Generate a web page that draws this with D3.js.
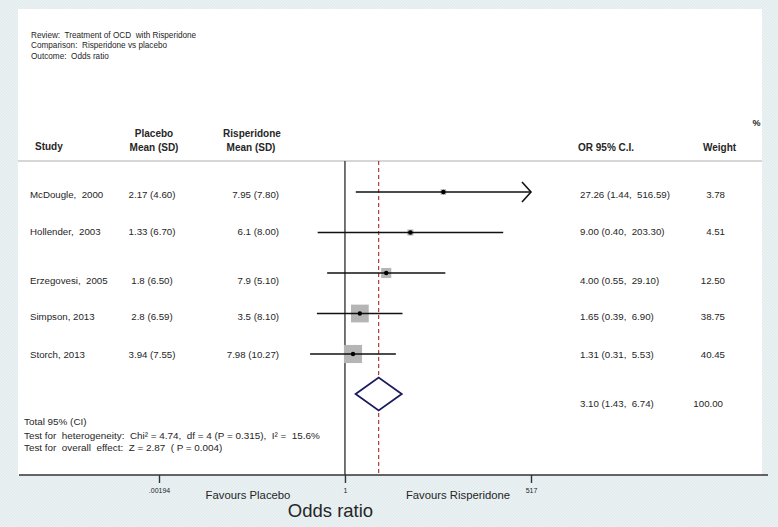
<!DOCTYPE html>
<html>
<head>
<meta charset="utf-8">
<script src="https://cdn.jsdelivr.net/npm/d3@7/dist/d3.min.js"></script>
<style>
  html, body { margin: 0; padding: 0; background: #fff; }
  svg { display: block; }
  text { font-family: "Liberation Sans", Arial, sans-serif; fill: #262626; }
</style>
</head>
<body>
<svg id="chart" width="778" height="527"></svg>
<script>
// ---------- data ----------
const headerLines = ["Review:  Treatment of OCD  with Risperidone", "Comparison:  Risperidone vs placebo", "Outcome:  Odds ratio"];
const studies = ["McDougle,  2000", "Hollender,  2003", "Erzegovesi,  2005", "Simpson, 2013", "Storch, 2013"];
const placeboMean = ["2.17", "1.33", "1.8", "2.8", "3.94"];
const placeboSD = ["4.60", "6.70", "6.50", "6.59", "7.55"];
const risperidoneMean = ["7.95", "6.1", "7.9", "3.5", "7.98"];
const risperidoneSD = ["7.80", "8.00", "5.10", "8.10", "10.27"];
const oddsRatio = [27.26, 9.00, 4.00, 1.65, 1.31];
const ciLow = [1.44, 0.40, 0.55, 0.39, 0.31];
const ciHigh = [516.59, 203.30, 29.10, 6.90, 5.53];
const weights = [3.78, 4.51, 12.50, 38.75, 40.45];
const pooled = { or: 3.10, lo: 1.43, hi: 6.74, weight: 100.00 };
const axisTicks = [0.00194, 1, 517];
const axisTickLabels = [".00194", "1", "517"];
const statsLines = [
  "Total 95% (CI)",
  "Test for  heterogeneity:  Chi\u00B2 = 4.74,  df = 4 (P = 0.315),  I\u00B2 =  15.6%",
  "Test for  overall  effect:  Z = 2.87  ( P = 0.004)"
];

// ---------- layout ----------
const W = 778, H = 527;
const panel = { x0: 18, x1: 762, y0: 9, y1: 475 };
const textRowShift = [2.5, -1, 7.5, 3.5, 1];   // text rows sit slightly off the plot rows in the original

const svg = d3.select("#chart");

// background with fine hatch
const defs = svg.append("defs");
const pat = defs.append("pattern").attr("id", "hatch").attr("width", 3).attr("height", 3)
  .attr("patternUnits", "userSpaceOnUse");
pat.append("rect").attr("width", 3).attr("height", 3).attr("fill", "#e9f1f3");
pat.append("path").attr("d", "M0,3 L3,0").attr("stroke", "#dde8eb").attr("stroke-width", 0.8);
svg.append("rect").attr("width", W).attr("height", H).attr("fill", "url(#hatch)");
svg.append("rect").attr("x", panel.x0).attr("y", panel.y0)
  .attr("width", panel.x1 - panel.x0).attr("height", panel.y1 - panel.y0).attr("fill", "#fff");

// scales
const x = d3.scaleLog().domain([axisTicks[0], axisTicks[2]]).range([159, 531]);
const y = d3.scalePoint().domain(d3.range(studies.length)).range([192, 354]);
const boxSide = w => 2.85 * Math.sqrt(w);

// header texts
svg.append("g").selectAll("text").data(headerLines).join("text")
  .attr("x", 31).attr("y", (d, i) => 38 + i * 10.3)
  .attr("font-size", 8.2).attr("xml:space", "preserve").text(d => d);

const bold = (t, xx, yy, anchor, size) => svg.append("text").attr("x", xx).attr("y", yy)
  .attr("text-anchor", anchor || "start").attr("font-size", size || 10).attr("font-weight", "bold").text(t);
bold("Study", 35, 150);
bold("Placebo", 154, 137, "middle");
bold("Mean (SD)", 154, 151, "middle");
bold("Risperidone", 252, 137, "middle");
bold("Mean (SD)", 251, 151, "middle");
bold("OR  95% C.I.", 578, 151);
bold("Weight", 703, 151);
bold("%", 752.5, 126, "start", 9);

// header separator
svg.append("line").attr("x1", panel.x0).attr("x2", panel.x1).attr("y1", 161).attr("y2", 161)
  .attr("stroke", "#c9c9c9").attr("stroke-width", 1.5);

// reference lines
svg.append("line").attr("x1", x(1)).attr("x2", x(1)).attr("y1", 161).attr("y2", panel.y1)
  .attr("stroke", "#2a2a2a").attr("stroke-width", 1.3);
svg.append("line").attr("x1", x(pooled.or)).attr("x2", x(pooled.or)).attr("y1", 161).attr("y2", panel.y1)
  .attr("stroke", "#b03a3a").attr("stroke-width", 1.2).attr("stroke-dasharray", "4,3");

// row texts
const rows = svg.append("g").attr("font-size", 9.7);
const idx = d3.range(studies.length);
rows.selectAll(".st").data(idx).join("text").attr("class", "st")
  .attr("x", 30).attr("y", i => y(i) + textRowShift[i]).attr("dy", "0.35em")
  .attr("xml:space", "preserve").text(i => studies[i]);
rows.selectAll(".pl").data(idx).join("text").attr("class", "pl")
  .attr("x", 152).attr("text-anchor", "middle").attr("y", i => y(i) + textRowShift[i]).attr("dy", "0.35em")
  .text(i => `${placeboMean[i]} (${placeboSD[i]})`);
rows.selectAll(".ri").data(idx).join("text").attr("class", "ri")
  .attr("x", 279).attr("text-anchor", "end").attr("y", i => y(i) + textRowShift[i]).attr("dy", "0.35em")
  .text(i => `${risperidoneMean[i]} (${risperidoneSD[i]})`);
rows.selectAll(".or").data(idx).join("text").attr("class", "or")
  .attr("x", 580).attr("y", i => y(i) + textRowShift[i]).attr("dy", "0.35em")
  .attr("xml:space", "preserve")
  .text(i => `${oddsRatio[i].toFixed(2)} (${ciLow[i].toFixed(2)},  ${ciHigh[i].toFixed(2)})`);
rows.selectAll(".wt").data(idx).join("text").attr("class", "wt")
  .attr("x", 725).attr("text-anchor", "end").attr("y", i => y(i) + textRowShift[i]).attr("dy", "0.35em")
  .text(i => weights[i].toFixed(2));

// boxes
const marks = svg.append("g");
marks.selectAll("rect").data(idx).join("rect")
  .attr("x", i => x(oddsRatio[i]) - boxSide(weights[i]) / 2)
  .attr("y", i => y(i) - boxSide(weights[i]) / 2)
  .attr("width", i => boxSide(weights[i])).attr("height", i => boxSide(weights[i]))
  .attr("fill", "#b5b5b5");
// CI lines
const xMax = x.range()[1];
marks.selectAll("line.ci").data(idx).join("line").attr("class", "ci")
  .attr("x1", i => x(ciLow[i])).attr("x2", i => Math.min(x(ciHigh[i]), xMax))
  .attr("y1", i => y(i)).attr("y2", i => y(i))
  .attr("stroke", "#111").attr("stroke-width", 1.6);
// arrows when CI reaches the axis limit
marks.selectAll("path.arrow").data(idx.filter(i => x(ciHigh[i]) >= xMax - 1)).join("path").attr("class", "arrow")
  .attr("d", i => `M${xMax - 9},${y(i) - 10} L${xMax},${y(i)} L${xMax - 9},${y(i) + 10}`)
  .attr("fill", "none").attr("stroke", "#111").attr("stroke-width", 1.6);
// points
marks.selectAll("circle").data(idx).join("circle")
  .attr("cx", i => x(oddsRatio[i])).attr("cy", i => y(i)).attr("r", 2.2).attr("fill", "#000");

// pooled diamond
const yD = 394, hD = 16.5;
svg.append("path")
  .attr("d", `M${x(pooled.lo)},${yD} L${x(pooled.or)},${yD - hD} L${x(pooled.hi)},${yD} L${x(pooled.or)},${yD + hD} Z`)
  .attr("fill", "#fff").attr("stroke", "#1b1b5e").attr("stroke-width", 1.8);
svg.append("text").attr("x", 580).attr("y", 404).attr("dy", "0.35em").attr("font-size", 9.7)
  .attr("xml:space", "preserve")
  .text(`${pooled.or.toFixed(2)} (${pooled.lo.toFixed(2)},  ${pooled.hi.toFixed(2)})`);
svg.append("text").attr("x", 723).attr("y", 404).attr("dy", "0.35em").attr("font-size", 9.7)
  .attr("text-anchor", "end").text(pooled.weight.toFixed(2));

// stats text
svg.append("g").selectAll("text").data(statsLines).join("text")
  .attr("x", 24).attr("y", (d, i) => [422, 436, 448][i]).attr("dy", "0.35em")
  .attr("font-size", 9.9).attr("xml:space", "preserve").text(d => d);

// axis
svg.append("line").attr("x1", 19).attr("x2", 768).attr("y1", panel.y1).attr("y2", panel.y1)
  .attr("stroke", "#333").attr("stroke-width", 1.6);
const axis = d3.axisBottom(x).tickValues(axisTicks)
  .tickFormat((d, i) => axisTickLabels[i]).tickSize(8).tickPadding(5);
const gAxis = svg.append("g").attr("transform", `translate(0,${panel.y1})`).call(axis);
gAxis.select(".domain").remove();
gAxis.selectAll(".tick line").attr("stroke", "#333").attr("stroke-width", 1.4);
gAxis.selectAll(".tick text").attr("font-size", 7).attr("fill", "#333")
  .attr("font-family", "Liberation Sans, Arial, sans-serif");

svg.append("text").attr("x", 248).attr("y", 499).attr("text-anchor", "middle").attr("font-size", 11.3).text("Favours Placebo");
svg.append("text").attr("x", 458).attr("y", 499).attr("text-anchor", "middle").attr("font-size", 11.3).text("Favours Risperidone");
svg.append("text").attr("x", 330.5).attr("y", 517).attr("text-anchor", "middle").attr("font-size", 18.5).attr("fill", "#111").text("Odds ratio");
</script>
</body>
</html>
